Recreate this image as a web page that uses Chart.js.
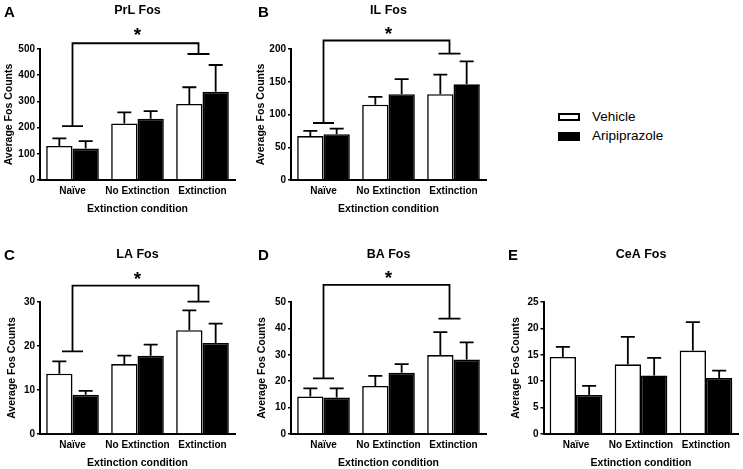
<!DOCTYPE html>
<html>
<head>
<meta charset="utf-8">
<script src="https://cdn.jsdelivr.net/npm/chart.js@4.4.0/dist/chart.umd.min.js"></script>
<style>
  body { margin: 0; width: 743px; height: 469px; background: #fff; position: relative; overflow: hidden;
         font-family: "Liberation Sans", Arial, sans-serif; }
  canvas { position: absolute; }
  .item { position: absolute; left: 558px; font-size: 13.5px; color: #000; line-height: 16px; white-space: nowrap; }
  .box { position: absolute; left: 0; width: 22px; box-sizing: border-box; border: 2px solid #000; }
  .item span.txt { position: absolute; left: 34px; top: 0; }
</style>
</head>
<body>
<canvas id="panelA" width="245" height="215" style="left:0px;top:0px"></canvas>
<canvas id="panelB" width="245" height="215" style="left:245px;top:0px"></canvas>
<canvas id="panelC" width="245" height="244" style="left:0px;top:225px"></canvas>
<canvas id="panelD" width="245" height="244" style="left:245px;top:225px"></canvas>
<canvas id="panelE" width="253" height="244" style="left:490px;top:225px"></canvas>
<div id="legend"></div>
<script>
const categories = ['Naïve', 'No Extinction', 'Extinction'];
const seriesNames = ['Vehicle', 'Aripiprazole'];

// A - PrL
const prlVehicle = [130, 216, 290];
const prlVehicleSem = [29, 42, 64];
const prlArip = [120, 234, 337];
const prlAripSem = [28, 29, 102];
const prlTicks = [0, 100, 200, 300, 400, 500];
const prlSig = [522, 206, 481, 563]; // bracket top, left leg, right leg, star

// B - IL
const ilVehicle = [67, 115, 131];
const ilVehicleSem = [8, 12, 30];
const ilArip = [70, 131, 146];
const ilAripSem = [8.5, 23, 35];
const ilTicks = [0, 50, 100, 150, 200];
const ilSig = [213, 87, 193, 227];

// C - LA
const laVehicle = [13.7, 15.9, 23.6];
const laVehicleSem = [2.8, 1.9, 4.5];
const laArip = [8.9, 17.8, 20.7];
const laAripSem = [0.9, 2.5, 4.4];
const laTicks = [0, 10, 20, 30];
const laSig = [33.7, 18.8, 30.1, 35.8];

// D - BA
const baVehicle = [14.2, 18.2, 29.9];
const baVehicleSem = [3.1, 3.8, 8.7];
const baArip = [13.8, 23.2, 28.2];
const baAripSem = [3.5, 3.3, 6.5];
const baTicks = [0, 10, 20, 30, 40, 50];
const baSig = [56.5, 21.1, 43.7, 60.4];

// E - CeA
const ceaVehicle = [14.6, 13.2, 15.8];
const ceaVehicleSem = [1.9, 5.2, 5.4];
const ceaArip = [7.4, 11.1, 10.6];
const ceaAripSem = [1.7, 3.3, 1.4];
const ceaTicks = [0, 5, 10, 15, 20, 25];

const FONT = '"Liberation Sans", Arial, sans-serif';
Chart.defaults.font.family = FONT;
Chart.defaults.color = '#000';

// upward SEM bars with a cap
const errorBars = {
  id: 'errorBars',
  afterDatasetsDraw(chart) {
    const ctx = chart.ctx;
    const y = chart.scales.y;
    ctx.save();
    ctx.strokeStyle = '#000';
    ctx.lineWidth = 1.8;
    chart.data.datasets.forEach((ds, i) => {
      chart.getDatasetMeta(i).data.forEach((bar, j) => {
        const top = y.getPixelForValue(ds.data[j] + ds.sem[j]);
        ctx.beginPath();
        ctx.moveTo(bar.x, bar.y);
        ctx.lineTo(bar.x, top);
        ctx.moveTo(bar.x - 7, top);
        ctx.lineTo(bar.x + 7, top);
        ctx.stroke();
      });
    });
    ctx.restore();
  }
};

// Naive vs Extinction significance bracket
const sigBracket = {
  id: 'sigBracket',
  afterDraw(chart, args, opts) {
    if (!opts.levels) return;
    const [top, leftEnd, rightEnd, star] = opts.levels;
    const x = chart.scales.x, y = chart.scales.y;
    const x1 = x.getPixelForValue(0);
    const x2 = x.getPixelForValue(2) - 4;
    const ctx = chart.ctx;
    ctx.save();
    ctx.strokeStyle = '#000';
    ctx.lineWidth = 1.8;
    ctx.beginPath();
    ctx.moveTo(x1, y.getPixelForValue(leftEnd));
    ctx.lineTo(x1, y.getPixelForValue(top));
    ctx.lineTo(x2, y.getPixelForValue(top));
    ctx.lineTo(x2, y.getPixelForValue(rightEnd));
    ctx.moveTo(x1 - 10.5, y.getPixelForValue(leftEnd));
    ctx.lineTo(x1 + 10.5, y.getPixelForValue(leftEnd));
    ctx.moveTo(x2 - 11, y.getPixelForValue(rightEnd));
    ctx.lineTo(x2 + 11, y.getPixelForValue(rightEnd));
    ctx.stroke();
    ctx.fillStyle = '#000';
    ctx.font = 'bold 19px ' + FONT;
    ctx.textAlign = 'center';
    ctx.textBaseline = 'alphabetic';
    ctx.fillText('*', (x1 + x2) / 2 + 2, y.getPixelForValue(star) + 9);
    ctx.restore();
  }
};

// panel letter and title
const panelText = {
  id: 'panelText',
  afterDraw(chart, args, opts) {
    const ctx = chart.ctx, a = chart.chartArea;
    ctx.save();
    ctx.fillStyle = '#000';
    ctx.textBaseline = 'middle';
    ctx.textAlign = 'left';
    ctx.font = 'bold 15px ' + FONT;
    ctx.fillText(opts.letter, opts.letterX, opts.letterY);
    ctx.textAlign = 'center';
    ctx.font = 'bold 12.5px ' + FONT;
    ctx.fillText(opts.title, (a.left + a.right) / 2, opts.titleY);
    ctx.restore();
  }
};

function makePanel(id, cfg) {
  const ctx = document.getElementById(id);
  new Chart(ctx, {
    type: 'bar',
    data: {
      labels: categories,
      datasets: [
        { label: seriesNames[0], data: cfg.vehicle, sem: cfg.vehicleSem,
          backgroundColor: '#fff', borderColor: '#000', borderWidth: 1.6 },
        { label: seriesNames[1], data: cfg.arip, sem: cfg.aripSem,
          backgroundColor: '#000', borderColor: '#000', borderWidth: 1.6 }
      ]
    },
    options: {
      responsive: false,
      animation: false,
      events: [],
      layout: { padding: { top: cfg.top, right: cfg.right, left: 0, bottom: 0 } },
      datasets: { bar: { categoryPercentage: 0.81, barPercentage: 1 } },
      plugins: {
        legend: { display: false },
        tooltip: { enabled: false },
        panelText: { letter: cfg.letter, letterX: cfg.letterX, letterY: cfg.letterY,
                     title: cfg.title, titleY: cfg.titleY },
        sigBracket: { levels: cfg.sig || null }
      },
      scales: {
        x: {
          grid: { display: false, drawTicks: false },
          border: { display: true, color: '#000', width: 2 },
          ticks: { padding: 5, maxRotation: 0, minRotation: 0, autoSkip: false,
                   font: { size: 10, weight: 'bold' } },
          title: { display: true, text: 'Extinction condition', padding: 0,
                   font: { size: 10.5, weight: 'bold' } },
          afterFit: s => { s.height = 35; }
        },
        y: {
          min: 0,
          max: cfg.ticks[cfg.ticks.length - 1],
          afterBuildTicks: s => { s.ticks = cfg.ticks.map(v => ({ value: v })); },
          grid: { drawOnChartArea: false, drawTicks: true, tickLength: 3, color: '#000', lineWidth: 1.5 },
          border: { display: true, color: '#000', width: 2 },
          ticks: { padding: 2, font: { size: 10, weight: 'bold' } },
          title: { display: true, text: 'Average Fos Counts', padding: { top: cfg.yTitlePad, bottom: 0 },
                   font: { size: 10.5, weight: 'bold' } },
          afterFit: s => { s.width = cfg.left; }
        }
      }
    },
    plugins: [errorBars, sigBracket, panelText]
  });
}

makePanel('panelA', { vehicle: prlVehicle, vehicleSem: prlVehicleSem, arip: prlArip, aripSem: prlAripSem,
  ticks: prlTicks, sig: prlSig, letter: 'A', letterX: 4, letterY: 13, title: 'PrL Fos', titleY: 11,
  top: 49, left: 40, right: 10, yTitlePad: 2.4 });
makePanel('panelB', { vehicle: ilVehicle, vehicleSem: ilVehicleSem, arip: ilArip, aripSem: ilAripSem,
  ticks: ilTicks, sig: ilSig, letter: 'B', letterX: 13, letterY: 13, title: 'IL Fos', titleY: 11,
  top: 49, left: 46, right: 4, yTitlePad: 9.5 });
makePanel('panelC', { vehicle: laVehicle, vehicleSem: laVehicleSem, arip: laArip, aripSem: laAripSem,
  ticks: laTicks, sig: laSig, letter: 'C', letterX: 4, letterY: 31, title: 'LA Fos', titleY: 29.5,
  top: 77, left: 40, right: 10, yTitlePad: 6.2 });
makePanel('panelD', { vehicle: baVehicle, vehicleSem: baVehicleSem, arip: baArip, aripSem: baAripSem,
  ticks: baTicks, sig: baSig, letter: 'D', letterX: 13, letterY: 31, title: 'BA Fos', titleY: 29.5,
  top: 77, left: 46, right: 4, yTitlePad: 10.4 });
makePanel('panelE', { vehicle: ceaVehicle, vehicleSem: ceaVehicleSem, arip: ceaArip, aripSem: ceaAripSem,
  ticks: ceaTicks, letter: 'E', letterX: 18, letterY: 31, title: 'CeA Fos', titleY: 30,
  top: 77, left: 53.5, right: 4.5, yTitlePad: 20 });

// legend for both series
const legendColors = ['#fff', '#000'];
const legendTops = [109, 128];
const legendEl = document.getElementById('legend');
seriesNames.forEach((name, i) => {
  const item = document.createElement('div');
  item.className = 'item';
  item.style.top = legendTops[i] + 'px';
  const box = document.createElement('div');
  box.className = 'box';
  box.style.background = legendColors[i];
  box.style.top = i === 0 ? '4px' : '3.5px';
  box.style.height = i === 0 ? '8px' : '9px';
  const txt = document.createElement('span');
  txt.className = 'txt';
  txt.textContent = name;
  item.appendChild(box);
  item.appendChild(txt);
  legendEl.appendChild(item);
});
</script>
</body>
</html>
